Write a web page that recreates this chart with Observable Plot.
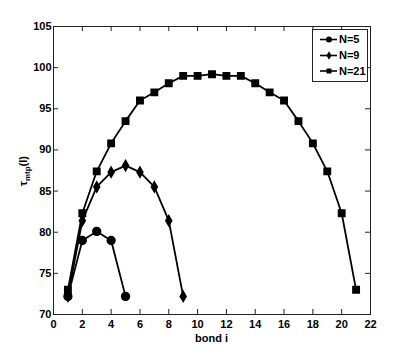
<!DOCTYPE html>
<html><head><meta charset="utf-8">
<script src="https://cdn.jsdelivr.net/npm/d3@7"></script>
<script src="https://cdn.jsdelivr.net/npm/@observablehq/plot@0.6"></script>
<style>body{margin:0;background:#fff}</style>
</head><body><div id="chart"></div>
<script>
const bondsN5 = [1,2,3,4,5];
const tauN5 = [72.2,79.0,80.1,79.0,72.2];
const bondsN9 = [1,2,3,4,5,6,7,8,9];
const tauN9 = [72.2,81.4,85.5,87.3,88.1,87.3,85.5,81.4,72.2];
const bondsN21 = [1,2,3,4,5,6,7,8,9,10,11,12,13,14,15,16,17,18,19,20,21];
const tauN21 = [73.0,82.3,87.4,90.8,93.5,96.0,97.0,98.1,99.0,99.0,99.2,99.0,99.0,98.1,97.0,96.0,93.5,90.8,87.4,82.3,73.0];
const seriesNames = ["N=5","N=9","N=21"];
const symbols = ["circle","diamond","square"];
const xTicks = [0,2,4,6,8,10,12,14,16,18,20,22];
const yTicks = [70,75,80,85,90,95,100,105];

const mk = (xs, ys, name) => xs.map((x,i)=>({x, y: ys[i], s: name}));
const data = [
  ...mk(bondsN5, tauN5, seriesNames[0]),
  ...mk(bondsN9, tauN9, seriesNames[1]),
  ...mk(bondsN21, tauN21, seriesNames[2])
];
const font = "Liberation Sans, Arial, sans-serif";
const W = 409, H = 354, mL = 53, mR = 39, mT = 26, mB = 40;
const innerH = H - mT - mB, innerW = W - mL - mR;
const sizes = {"N=5": 3.9, "N=9": 3.1, "N=21": 3.6};

const chart = Plot.plot({
  width: W, height: H,
  marginLeft: mL, marginRight: mR, marginTop: mT, marginBottom: mB,
  style: {fontFamily: font, fontSize: "11px", fontWeight: "bold", background: "#fff"},
  x: {domain: [0,22]},
  y: {domain: [70,105]},
  symbol: {domain: seriesNames, range: symbols},
  marks: [
    Plot.ruleX(xTicks, {x: d=>d, insetTop: innerH-5, stroke: "#222"}),
    Plot.ruleX(xTicks, {x: d=>d, insetBottom: innerH-5, stroke: "#222"}),
    Plot.ruleY(yTicks, {y: d=>d, insetRight: innerW-5, stroke: "#222"}),
    Plot.ruleY(yTicks, {y: d=>d, insetLeft: innerW-5, stroke: "#222"}),
    Plot.frame({stroke: "#222"}),
    Plot.axisX(xTicks, {tickSize: 0, tickPadding: 6, label: null, fill: "#000"}),
    Plot.axisY(yTicks, {tickSize: 0, tickPadding: 2, label: null, fill: "#000"}),
    Plot.line(data, {x: "x", y: "y", z: "s", stroke: "#000", strokeWidth: 1.8}),
    ...seriesNames.map(n => Plot.dot(data.filter(d => d.s === n),
      {x: "x", y: "y", symbol: "s", fill: "#000", stroke: "#000", r: sizes[n]}))
  ]
});
document.getElementById("chart").appendChild(chart);

const svg = d3.select(chart);
// x label
svg.append("text").attr("x", mL + innerW/2).attr("y", 342).attr("text-anchor","middle")
  .style("font", `bold 11px ${font}`).text("bond i");
// y label
const yl = svg.append("text").attr("transform", "translate(27,171) rotate(-90)")
  .attr("text-anchor","middle").style("font", `bold 11px ${font}`);
yl.append("tspan").text("τ");
yl.append("tspan").attr("dy", 3).style("font-size","8px").text("mtp");
yl.append("tspan").attr("dy", -3).text("(l)");
// legend
const lg = svg.append("g");
lg.append("rect").attr("x", 312.5).attr("y", 29.5).attr("width", 55).attr("height", 52)
  .attr("fill","#fff").attr("stroke","#222");
const rowsY = [39.5, 55.5, 71];
const symMap = {circle: d3.symbolCircle, diamond: d3.symbolDiamond, square: d3.symbolSquare};
const lgSizes = [3.0, 2.6, 2.8];
seriesNames.forEach((name,i)=>{
  const y = rowsY[i];
  lg.append("line").attr("x1",320).attr("x2",337).attr("y1",y).attr("y2",y)
    .attr("stroke","#000").attr("stroke-width",1.6);
  lg.append("path").attr("transform",`translate(329,${y})`)
    .attr("d", d3.symbol(symMap[symbols[i]], Math.PI*lgSizes[i]*lgSizes[i])()).attr("fill","#000");
  lg.append("text").attr("x",339).attr("y",y).attr("dy","0.35em").attr("text-anchor","start")
    .style("font", `bold 11px ${font}`).text(name);
});
</script>
</body></html>
